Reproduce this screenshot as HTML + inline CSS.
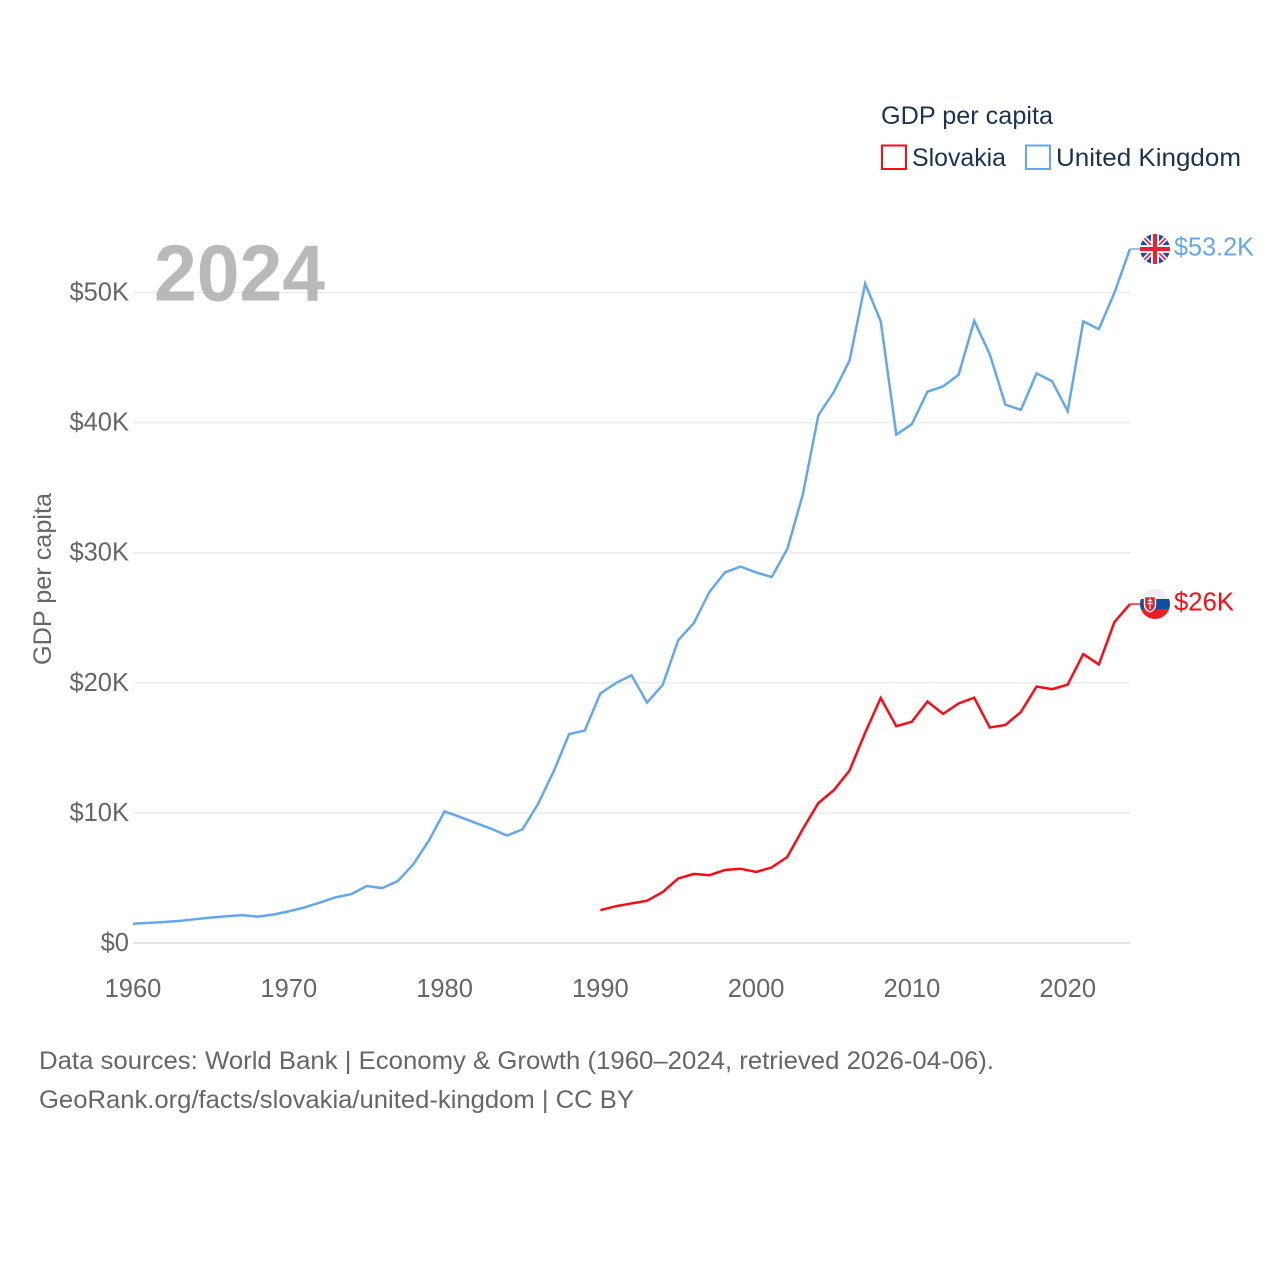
<!DOCTYPE html>
<html lang="en">
<head>
<meta charset="utf-8">
<title>GDP per capita: Slovakia and United Kingdom</title>
<style>
html,body{margin:0;padding:0;background:#fff;width:1280px;height:1280px;overflow:hidden}
svg{display:block}
text{font-family:"Liberation Sans",Arial,sans-serif}
</style>
</head>
<body>
<svg id="chart" width="1280" height="1280" viewBox="0 0 1280 1280" xmlns="http://www.w3.org/2000/svg">
  <defs>
    <clipPath id="uk-clip"><circle cx="1155" cy="249" r="15"/></clipPath>
    <clipPath id="sk-clip"><circle cx="1155" cy="604" r="15"/></clipPath>
  </defs>
  <rect width="1280" height="1280" fill="#fff"/>
  <g id="grid"></g>
  <g id="y-ticks"></g>
  <g id="x-ticks"></g>
  <g id="series"></g>

  <text x="154" y="300.5" font-size="80" font-weight="700" fill="#a8a8a8" fill-opacity="0.8" textLength="171" lengthAdjust="spacingAndGlyphs">2024</text>

  <text transform="translate(51,579) rotate(-90)" text-anchor="middle" font-size="25" fill="#666" textLength="172" lengthAdjust="spacingAndGlyphs">GDP per capita</text>

  <g>
    <text x="881" y="124" font-size="25" fill="#1a3350" textLength="172" lengthAdjust="spacingAndGlyphs">GDP per capita</text>
    <g>
      <rect x="882" y="145.5" width="24" height="23.5" fill="#fff" stroke="#ff0a14" stroke-width="2"/>
      <text x="912" y="166" font-size="25" fill="#1a3350" textLength="94" lengthAdjust="spacingAndGlyphs">Slovakia</text>
    </g>
    <g>
      <rect x="1026" y="145.5" width="24" height="23.5" fill="#fff" stroke="#62a8ee" stroke-width="2"/>
      <text x="1056" y="166" font-size="25" fill="#1a3350" textLength="185" lengthAdjust="spacingAndGlyphs">United Kingdom</text>
    </g>
  </g>

  <g clip-path="url(#uk-clip)">
    <rect x="1140" y="234" width="30" height="30" fill="#1450a8"/>
    <path d="M1140 234L1170 264M1170 234L1140 264" stroke="#f0f0f0" stroke-width="5"/>
    <path d="M1140 234L1170 264M1170 234L1140 264" stroke="#e5223a" stroke-width="1.6"/>
    <path d="M1155 234V264M1140 249H1170" stroke="#f0f0f0" stroke-width="8"/>
    <path d="M1155 234V264M1140 249H1170" stroke="#e5223a" stroke-width="4"/>
  </g>

  <g clip-path="url(#sk-clip)">
    <rect x="1140" y="589" width="30" height="10" fill="#eeeeee"/>
    <rect x="1140" y="599" width="30" height="10" fill="#0b4ea2"/>
    <rect x="1140" y="609" width="30" height="11" fill="#ee1c25"/>
    <path d="M1144.5 596.5H1155.5V605Q1155.5 609.5 1150 612Q1144.5 609.5 1144.5 605Z" fill="#ee1c25" stroke="#fff" stroke-width="1.4"/>
    <path d="M1150 598V609M1147.8 600.5H1152.2M1147 603.5H1153" stroke="#fff" stroke-width="1.2"/>
  </g>

  <g>
    <text x="39" y="1069" font-size="25" fill="#666" textLength="955" lengthAdjust="spacingAndGlyphs">Data sources: World Bank | Economy &amp; Growth (1960–2024, retrieved 2026-04-06).</text>
    <text x="39" y="1108" font-size="25" fill="#666" textLength="595" lengthAdjust="spacingAndGlyphs">GeoRank.org/facts/slovakia/united-kingdom | CC BY</text>
  </g>
</svg>
<script>
const ukYears = [1960,1961,1962,1963,1964,1965,1966,1967,1968,1969,1970,1971,1972,1973,1974,1975,1976,1977,1978,1979,1980,1981,1982,1983,1984,1985,1986,1987,1988,1989,1990,1991,1992,1993,1994,1995,1996,1997,1998,1999,2000,2001,2002,2003,2004,2005,2006,2007,2008,2009,2010,2011,2012,2013,2014,2015,2016,2017,2018,2019,2020,2021,2022,2023,2024];
const ukValues = [1.48,1.55,1.61,1.70,1.83,1.95,2.06,2.14,2.03,2.18,2.43,2.73,3.11,3.51,3.75,4.38,4.22,4.76,6.06,7.88,10.11,9.68,9.23,8.78,8.26,8.73,10.68,13.18,16.06,16.33,19.18,19.98,20.58,18.48,19.83,23.28,24.58,26.98,28.48,28.93,28.48,28.13,30.28,34.48,40.58,42.38,44.78,50.68,47.78,39.08,39.88,42.38,42.78,43.68,47.82,45.25,41.38,40.98,43.78,43.18,40.88,47.78,47.18,49.98,53.35];
const skYears = [1990,1991,1992,1993,1994,1995,1996,1997,1998,1999,2000,2001,2002,2003,2004,2005,2006,2007,2008,2009,2010,2011,2012,2013,2014,2015,2016,2017,2018,2019,2020,2021,2022,2023,2024];
const skValues = [2.52,2.83,3.04,3.25,3.91,4.96,5.31,5.21,5.61,5.71,5.46,5.81,6.61,8.76,10.76,11.76,13.26,16.16,18.83,16.66,17.01,18.56,17.61,18.41,18.86,16.56,16.76,17.76,19.71,19.51,19.86,22.21,21.41,24.66,26.05];
const yTickValues = [0,10,20,30,40,50];
const yTickLabels = ["$0","$10K","$20K","$30K","$40K","$50K"];
const xTickValues = [1960,1970,1980,1990,2000,2010,2020];
const xTickLabels = ["1960","1970","1980","1990","2000","2010","2020"];
const ukEndLabel = "$53.2K";
const skEndLabel = "$26K";

const SVG_NS = "http://www.w3.org/2000/svg";
const X0 = 133, X1 = 1130, Y0 = 943, Y50 = 292.5;
function xScale(year) { return X0 + (year - 1960) * (X1 - X0) / 64; }
function yScale(value) { return Y0 - value * (Y0 - Y50) / 50; }

function svgEl(tag, attrs) {
  const el = document.createElementNS(SVG_NS, tag);
  for (const k in attrs) el.setAttribute(k, attrs[k]);
  return el;
}

const gridGroup = document.getElementById("grid");
const yGroup = document.getElementById("y-ticks");
const xGroup = document.getElementById("x-ticks");
const seriesGroup = document.getElementById("series");
const root = document.getElementById("chart");

yTickValues.forEach(function (v, i) {
  const line = svgEl("line", { x1: X0, x2: X1, y1: yScale(v), y2: yScale(v), stroke: v === 0 ? "#e2e2e2" : "#ebebeb", "stroke-width": v === 0 ? 2 : 1.5 });
  
  
  gridGroup.appendChild(line);
  const label = svgEl("text", { x: 129, y: yScale(v) + 8, "text-anchor": "end", "font-size": 25.5, fill: "#666" });
  label.textContent = yTickLabels[i];
  
  
  yGroup.appendChild(label);
});

xTickValues.forEach(function (v, i) {
  const label = svgEl("text", { x: xScale(v), y: 997, "text-anchor": "middle", "font-size": 25.5, fill: "#666" });
  label.textContent = xTickLabels[i];
  
  
  xGroup.appendChild(label);
});

function linePoints(years, values) {
  return years.map(function (y, i) { return xScale(y).toFixed(2) + "," + yScale(values[i]).toFixed(2); }).join(" ");
}

const skLine = svgEl("polyline", { points: linePoints(skYears, skValues), fill: "none", stroke: "#ff0a14", "stroke-width": 2.5, "stroke-linejoin": "miter" });


seriesGroup.appendChild(skLine);

const ukLine = svgEl("polyline", { points: linePoints(ukYears, ukValues), fill: "none", stroke: "#62a8ee", "stroke-width": 2.5, "stroke-linejoin": "miter" });


seriesGroup.appendChild(ukLine);

const skEndY = yScale(skValues[skValues.length - 1]);
const ukEndY = yScale(ukValues[ukValues.length - 1]);

const skLead = svgEl("line", { x1: X1, x2: X1 + 10, y1: skEndY, y2: skEndY, stroke: "#ff0a14", "stroke-opacity": 0.7, "stroke-width": 2 });


seriesGroup.appendChild(skLead);

const ukLead = svgEl("line", { x1: X1, x2: X1 + 10, y1: ukEndY, y2: ukEndY, stroke: "#62a8ee", "stroke-opacity": 0.7, "stroke-width": 2 });


seriesGroup.appendChild(ukLead);

const ukLabel = svgEl("text", { x: 1174, y: ukEndY + 6.5, "font-size": 25.5, fill: "#62a8ee", textLength: 80, lengthAdjust: "spacingAndGlyphs" });
ukLabel.textContent = ukEndLabel;


root.appendChild(ukLabel);

const skLabel = svgEl("text", { x: 1174, y: skEndY + 6.5, "font-size": 25.5, fill: "#ff0a14", textLength: 60, lengthAdjust: "spacingAndGlyphs" });
skLabel.textContent = skEndLabel;


root.appendChild(skLabel);
</script>
</body>
</html>
